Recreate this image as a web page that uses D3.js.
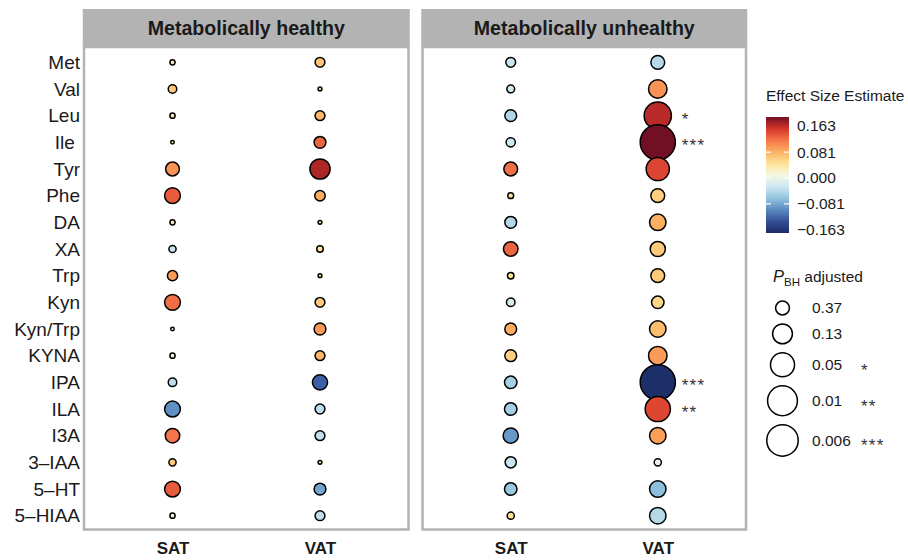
<!DOCTYPE html>
<html>
<head>
<meta charset="utf-8">
<script src="https://cdn.jsdelivr.net/npm/d3@7"></script>
<style>
  html, body { margin: 0; padding: 0; background: #ffffff; }
  svg { display: block; font-family: "Liberation Sans", Arial, Helvetica, sans-serif; }
  .ylab text { white-space: pre; }
</style>
</head>
<body>
<svg id="chart" width="908" height="560"></svg>
<script>
// ---------------- data ----------------
const metabolites = ["Met","Val","Leu","Ile ","Tyr","Phe","DA","XA","Trp","Kyn","Kyn/Trp","KYNA","IPA","ILA","I3A","3–IAA","5–HT","5–HIAA"];
const tissues = ["SAT","VAT"];
const groups = ["Metabolically healthy","Metabolically unhealthy"];

// effect size estimates
const healthySATest   = [0.024,0.049,0.024,0.024,0.082,0.111,0.024,-0.036,0.077,0.101,0.008,0.005,-0.041,-0.095,0.098,0.049,0.111,0.005];
const healthyVATest   = [0.052,0.020,0.060,0.106,0.143,0.068,0.024,0.033,0.029,0.049,0.078,0.062,-0.122,-0.041,-0.039,0.024,-0.082,-0.041];
const unhealthySATest = [-0.036,-0.029,-0.049,-0.033,0.101,0.029,-0.047,0.106,0.033,-0.026,0.068,0.046,-0.055,-0.055,-0.090,-0.036,-0.062,0.033];
const unhealthyVATest = [-0.046,0.082,0.139,0.163,0.122,0.046,0.065,0.049,0.049,0.041,0.057,0.077,-0.160,0.121,0.075,-0.008,-0.068,-0.046];

// BH adjusted p-values
const healthySATp   = [0.87,0.688,0.87,0.939,0.373,0.275,0.87,0.765,0.584,0.275,0.939,0.87,0.688,0.275,0.337,0.765,0.275,0.87];
const healthyVATp   = [0.609,0.928,0.609,0.487,0.121,0.566,0.928,0.804,0.928,0.609,0.487,0.609,0.303,0.609,0.609,0.928,0.487,0.609];
const unhealthySATp = [0.609,0.730,0.487,0.645,0.373,0.840,0.487,0.337,0.804,0.688,0.487,0.487,0.446,0.446,0.303,0.523,0.446,0.765];
const unhealthyVATp = [0.373,0.170,0.0218,0.00165,0.0618,0.373,0.245,0.303,0.373,0.446,0.245,0.170,0.00165,0.0375,0.245,0.765,0.245,0.245];

// significance labels
const unhealthyVATsig = ["","","*","***","","","","","","","","","***","**","","","",""];

// legends
const colorTicks = [0.163,0.081,0.000,-0.081,-0.163];
const colorTickLabels = ["0.163","0.081","0.000","−0.081","−0.163"];
const sizeBreaks = [0.37,0.13,0.05,0.01,0.006];
const sizeBreakLabels = ["0.37","0.13","0.05","0.01","0.006"];
const sizeBreakStars = ["","","*","**","***"];

// ---------------- assemble ----------------
const series = [
  {group: groups[0], tissue: "SAT", est: healthySATest, p: healthySATp, sig: null},
  {group: groups[0], tissue: "VAT", est: healthyVATest, p: healthyVATp, sig: null},
  {group: groups[1], tissue: "SAT", est: unhealthySATest, p: unhealthySATp, sig: null},
  {group: groups[1], tissue: "VAT", est: unhealthyVATest, p: unhealthyVATp, sig: unhealthyVATsig}
];
const points = [];
series.forEach(s => metabolites.forEach((m, i) => points.push({
  group: s.group, tissue: s.tissue, met: m, est: s.est[i], p: s.p[i], sig: s.sig ? s.sig[i] : ""
})));

// ---------------- scales ----------------
const LIM = 0.163;
const colorDomain = [-1,-0.8,-0.6,-0.4,-0.2,0,0.2,0.4,0.6,0.8,1].map(t => t * LIM);
const colorRange = ["#1b2c63","#344f99","#5a8ac0","#92c3de","#cde8f1","#f4f7e4","#fee395","#fdb062","#f47549","#d33529","#711024"];
const color = d3.scaleLinear().domain(colorDomain).range(colorRange).interpolate(d3.interpolateRgb).clamp(true);

const size = d3.scaleSqrt().domain([0, 3]).range([0, 18.27]);   // radius from -log10(p)
const rOf = p => size(-Math.log10(p));

const y = d3.scalePoint().domain(metabolites).range([62.3, 515.7]);

const panels = [
  {group: groups[0], x0: 84, x1: 408.5},
  {group: groups[1], x0: 422.5, x1: 746}
];
panels.forEach(pn => {
  pn.x = d3.scalePoint().domain(tissues).range([pn.x0, pn.x1]).padding(0.6);
});

const svg = d3.select("#chart");
const TOP = 47, BOTTOM = 529.5, HEAD = 9;
const gray = "#b3b3b3";
const ink = "#1a1a1a";

// ---------------- panels ----------------
panels.forEach(pn => {
  const g = svg.append("g");
  g.append("rect").attr("x", pn.x0 - 1.25).attr("y", HEAD)
    .attr("width", pn.x1 - pn.x0 + 2.5).attr("height", TOP - HEAD)
    .attr("fill", gray);
  g.append("text").attr("x", (pn.x0 + pn.x1) / 2).attr("y", (HEAD + TOP) / 2 + 0.5)
    .attr("dy", "0.35em").attr("text-anchor", "middle")
    .attr("font-size", 19.6).attr("font-weight", "bold").attr("fill", ink)
    .text(pn.group);
  g.append("rect").attr("x", pn.x0).attr("y", TOP)
    .attr("width", pn.x1 - pn.x0).attr("height", BOTTOM - TOP)
    .attr("fill", "#ffffff").attr("stroke", gray).attr("stroke-width", 2.5);

  const pts = points.filter(d => d.group === pn.group);
  g.selectAll("circle.pt").data(pts).join("circle")
    .attr("class", "pt")
    .attr("cx", d => pn.x(d.tissue))
    .attr("cy", d => y(d.met))
    .attr("r", d => rOf(d.p))
    .attr("fill", d => color(d.est))
    .attr("stroke", "#000000").attr("stroke-width", 1.5);

  g.selectAll("text.sig").data(pts.filter(d => d.sig)).join("text")
    .attr("class", "sig")
    .attr("x", d => pn.x(d.tissue) + 24)
    .attr("y", d => y(d.met) + 9)
    .attr("font-size", 17).attr("letter-spacing", 1.2).attr("fill", "#333333")
    .text(d => d.sig);

  const xa = g.append("g").attr("transform", `translate(0,${BOTTOM})`)
    .call(d3.axisBottom(pn.x).tickSize(0).tickPadding(12.5));
  xa.select(".domain").remove();
  xa.selectAll("text").attr("font-size", 17).attr("font-weight", "bold")
    .attr("fill", ink).attr("font-family", null);
});

// y axis labels
const ya = svg.append("g").attr("class", "ylab").attr("transform", `translate(${panels[0].x0},0)`)
  .call(d3.axisLeft(y).tickSize(0).tickPadding(4));
ya.select(".domain").remove();
ya.selectAll("text").attr("font-size", 19).attr("fill", ink).attr("font-family", null);

// ---------------- colour legend ----------------
const cbX = 766, cbW = 23, cbTop = 117, cbBot = 233;
const cbY = d3.scaleLinear().domain([-LIM, LIM]).range([230, 126]);
const defs = svg.append("defs");
const grad = defs.append("linearGradient").attr("id", "cbgrad")
  .attr("x1", 0).attr("y1", 1).attr("x2", 0).attr("y2", 0);
d3.range(0, 1.0001, 0.05).forEach(t => {
  grad.append("stop").attr("offset", t).attr("stop-color", color(-LIM + 2 * LIM * t));
});
svg.append("text").attr("x", 766).attr("y", 101).attr("font-size", 15.5).attr("fill", ink)
  .text("Effect Size Estimate");
svg.append("rect").attr("x", cbX).attr("y", cbTop).attr("width", cbW).attr("height", cbBot - cbTop)
  .attr("fill", "url(#cbgrad)");
const cbG = svg.append("g");
colorTicks.forEach((v, i) => {
  const yy = cbY(v);
  if (Math.abs(v) < LIM) {
    cbG.append("line").attr("x1", cbX).attr("x2", cbX + 5).attr("y1", yy).attr("y2", yy)
      .attr("stroke", "#ffffff").attr("stroke-width", 1.2);
    cbG.append("line").attr("x1", cbX + cbW - 5).attr("x2", cbX + cbW).attr("y1", yy).attr("y2", yy)
      .attr("stroke", "#ffffff").attr("stroke-width", 1.2);
  }
  cbG.append("text").attr("x", 797).attr("y", yy).attr("dy", "0.35em")
    .attr("font-size", 15.5).attr("fill", ink).text(colorTickLabels[i]);
});

// ---------------- size legend ----------------
const st = svg.append("text").attr("x", 773).attr("y", 282).attr("font-size", 15.5).attr("fill", ink);
st.append("tspan").attr("font-style", "italic").attr("font-size", 16.5).text("P");
st.append("tspan").attr("font-size", 11.5).attr("dy", 4).text("BH");
st.append("tspan").attr("dy", -4).text(" adjusted");

const lx = 782.5;
let ly = 308;
const sg = svg.append("g");
sizeBreaks.forEach((p, i) => {
  const r = rOf(p);
  if (i > 0) ly += rOf(sizeBreaks[i - 1]) + r + 1.5 + 7.5;
  sg.append("circle").attr("cx", lx).attr("cy", ly).attr("r", r)
    .attr("fill", "none").attr("stroke", "#000000").attr("stroke-width", 1.5);
  sg.append("text").attr("x", 812).attr("y", ly).attr("dy", "0.35em")
    .attr("font-size", 15.5).attr("fill", ink).text(sizeBreakLabels[i]);
  if (sizeBreakStars[i]) {
    sg.append("text").attr("x", 861).attr("y", ly + 11)
      .attr("font-size", 17).attr("letter-spacing", 1.2).attr("fill", "#333333")
      .text(sizeBreakStars[i]);
  }
});
</script>
</body>
</html>
